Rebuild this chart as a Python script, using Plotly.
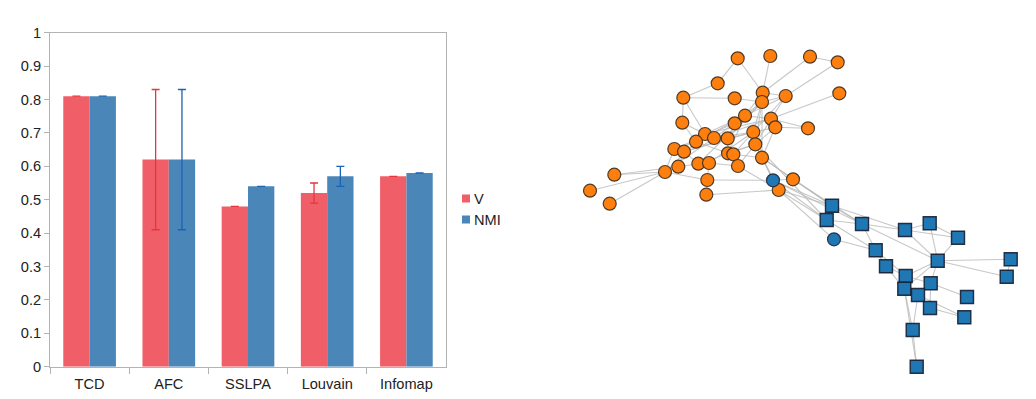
import plotly.graph_objects as go

# ---------------- bar chart data ----------------
methods = ["TCD", "AFC", "SSLPA", "Louvain", "Infomap"]
v_vals = [0.81, 0.62, 0.48, 0.52, 0.57]
v_err = [0.0, 0.21, 0.0, 0.03, 0.0]
nmi_vals = [0.81, 0.62, 0.54, 0.57, 0.58]
nmi_err = [0.0, 0.21, 0.0, 0.03, 0.0]
y_ticks = [0, 0.1, 0.2, 0.3, 0.4, 0.5, 0.6, 0.7, 0.8, 0.9, 1]
y_tick_text = ["0", "0.1", "0.2", "0.3", "0.4", "0.5", "0.6", "0.7", "0.8", "0.9", "1"]

# ---------------- network data (layout coordinates) ----------------
orange_x = [737.7, 770.3, 810.0, 837.7, 717.7, 683.3, 734.7, 762.7, 762.0, 785.7,
            839.3, 682.3, 745.0, 734.7, 771.0, 775.3, 808.0, 753.3, 755.3, 705.0,
            714.0, 727.7, 696.0, 674.3, 684.0, 728.0, 733.3, 762.0, 678.3, 698.3,
            709.0, 738.0, 665.0, 614.3, 707.3, 793.0, 778.7, 590.0, 706.3, 609.7]
orange_y = [58.3, 56.0, 56.7, 62.3, 83.3, 97.7, 98.3, 92.7, 102.0, 96.0,
            93.3, 122.7, 115.7, 123.3, 118.7, 127.3, 128.3, 132.0, 144.3, 134.0,
            138.0, 138.3, 141.7, 149.0, 151.7, 153.3, 154.3, 157.7, 166.7, 163.7,
            163.0, 166.0, 172.0, 174.7, 180.0, 179.3, 190.0, 190.7, 194.7, 203.7]
bcirc_x = [773.0, 834.0]
bcirc_y = [180.3, 239.3]
square_x = [832.0, 826.7, 862.0, 905.0, 929.7, 958.0, 875.7, 937.7, 1010.7, 1006.7,
            886.0, 905.7, 904.3, 930.7, 918.0, 967.0, 930.0, 964.3, 912.7, 916.7]
square_y = [205.7, 220.0, 224.0, 230.0, 223.3, 237.7, 250.3, 260.7, 259.3, 276.7,
            266.3, 276.0, 288.7, 283.3, 295.0, 297.0, 308.0, 317.3, 330.0, 366.7]

# edges: node ids "o#" orange circle, "b#" blue circle, "s#" square
edges = [
    ("o0", "o4"), ("o0", "o7"), ("o1", "o7"), ("o2", "o7"), ("o2", "o3"), ("o3", "o9"),
    ("o10", "o14"), ("o16", "o15"), ("o4", "o5"), ("o5", "o6"), ("o6", "o8"), ("o5", "o11"),
    ("o5", "o19"), ("o7", "o8"), ("o7", "o9"), ("o9", "o8"), ("o9", "o12"), ("o9", "o17"),
    ("o9", "o18"), ("o7", "o12"), ("o8", "o13"), ("o8", "o17"), ("o8", "o18"), ("o8", "o27"),
    ("o12", "o13"), ("o12", "o19"), ("o13", "o20"), ("o13", "o21"), ("o11", "o19"),
    ("o11", "o22"), ("o14", "o15"), ("o14", "o12"), ("o15", "o18"), ("o15", "o27"),
    ("o19", "o20"), ("o20", "o21"), ("o19", "o22"), ("o22", "o23"), ("o23", "o24"),
    ("o24", "o21"), ("o25", "o26"), ("o21", "o25"), ("o22", "o25"), ("o26", "o17"),
    ("o17", "o18"), ("o18", "o27"), ("o27", "o36"), ("o27", "b0"), ("o27", "o35"),
    ("o24", "o29"), ("o29", "o30"), ("o28", "o29"), ("o28", "o32"), ("o32", "o33"),
    ("o32", "o37"), ("o32", "o39"), ("o32", "o34"), ("o34", "o38"), ("o34", "b0"),
    ("o38", "o36"), ("o30", "o31"), ("o31", "o26"), ("o30", "o34"), ("o31", "o18"),
    ("o28", "o24"), ("o23", "o32"), ("o32", "o19"), ("o32", "o20"), ("o33", "o28"),
    ("o20", "o17"), ("o21", "o8"), ("o19", "o14"), ("o22", "o12"), ("o24", "o17"),
    ("o25", "o18"), ("o26", "o27"), ("o29", "o18"), ("o30", "o17"), ("o20", "o14"),
    ("o21", "o15"), ("o23", "o13"), ("o29", "o8"), ("o31", "o36"), ("o25", "o12"),
    ("o35", "s0"), ("o36", "s0"), ("o36", "s1"), ("b0", "s0"), ("b0", "s1"),
    ("o27", "s0"), ("b0", "o36"), ("o35", "b0"), ("o18", "o36"), ("b0", "s2"),
    ("o36", "b1"), ("o18", "s1"), ("o35", "s2"), ("b1", "s6"), ("o16", "o14"),
    ("s0", "s1"), ("s0", "s2"), ("s0", "s3"), ("s1", "s2"), ("s1", "s6"), ("s2", "s3"),
    ("s2", "s6"), ("s3", "s4"), ("s3", "s5"), ("s4", "s5"), ("s5", "s7"), ("s3", "s7"),
    ("s7", "s8"), ("s7", "s9"), ("s7", "s11"), ("s7", "s13"), ("s7", "s12"), ("s6", "s10"),
    ("s10", "s11"), ("s11", "s12"), ("s12", "s14"), ("s13", "s14"), ("s11", "s13"),
    ("s13", "s15"), ("s13", "s16"), ("s14", "s16"), ("s16", "s17"), ("s12", "s18"),
    ("s18", "s19"), ("s14", "s18"), ("s2", "s7"), ("s10", "s12"), ("s6", "s11"),
    ("s4", "s7"), ("s12", "s19"), ("s14", "s17"), ("s8", "s9"),
]

pos = {}
for i, (x, y) in enumerate(zip(orange_x, orange_y)):
    pos["o%d" % i] = (x, y)
for i, (x, y) in enumerate(zip(bcirc_x, bcirc_y)):
    pos["b%d" % i] = (x, y)
for i, (x, y) in enumerate(zip(square_x, square_y)):
    pos["s%d" % i] = (x, y)

ex, ey = [], []
for a, b in edges:
    ex += [pos[a][0], pos[b][0], None]
    ey += [pos[a][1], pos[b][1], None]

RED = "#f05f67"
BLUE = "#4a87b8"
RED_ERR = "#e8353d"
BLUE_ERR = "#1a63b3"
FONT = "Liberation Sans"
FS = 14.6

# The page body has an 8px default margin, so the figure is offset by 8px.
OFF = 8
W, H = 1036 - OFF, 399 - OFF


def px_x(p):
    return (p - OFF) / W


def px_y(p):
    return (H - (p - OFF)) / H


fig = go.Figure()

fig.add_trace(go.Bar(
    x=methods, y=v_vals, name="V", marker=dict(color=RED, line=dict(width=0)),
    error_y=dict(type="data", array=v_err, visible=True, color=RED_ERR, thickness=1.3, width=4),
    showlegend=False, xaxis="x", yaxis="y",
))
fig.add_trace(go.Bar(
    x=methods, y=nmi_vals, name="NMI", marker=dict(color=BLUE, line=dict(width=0)),
    error_y=dict(type="data", array=nmi_err, visible=True, color=BLUE_ERR, thickness=1.3, width=4),
    showlegend=False, xaxis="x", yaxis="y",
))

# network edges
fig.add_trace(go.Scatter(
    x=ex, y=ey, mode="lines", line=dict(color="rgba(185,185,185,0.8)", width=1.1),
    hoverinfo="skip", showlegend=False, xaxis="x2", yaxis="y2",
))
# nodes
fig.add_trace(go.Scatter(
    x=orange_x, y=orange_y, mode="markers",
    marker=dict(symbol="circle", size=13, color="#ff7f0e",
                line=dict(color="rgba(60,45,30,0.9)", width=1.2)),
    showlegend=False, xaxis="x2", yaxis="y2",
))
fig.add_trace(go.Scatter(
    x=bcirc_x, y=bcirc_y, mode="markers",
    marker=dict(symbol="circle", size=13, color="#1f77b4",
                line=dict(color="rgba(30,40,60,0.9)", width=1.2)),
    showlegend=False, xaxis="x2", yaxis="y2",
))
fig.add_trace(go.Scatter(
    x=square_x, y=square_y, mode="markers",
    marker=dict(symbol="square", size=13, color="#1f77b4",
                line=dict(color="rgba(20,30,50,0.9)", width=1.4)),
    showlegend=False, xaxis="x2", yaxis="y2",
))

axis_col = "#b3b3b3"

fig.update_layout(
    width=W, height=H,
    autosize=False,
    margin=dict(l=0, r=0, t=0, b=0, pad=0, autoexpand=False),
    paper_bgcolor="white", plot_bgcolor="white",
    barmode="group", bargap=0.335, bargroupgap=0,
    font=dict(family=FONT, size=FS, color="#222222"),
    showlegend=False,
    xaxis=dict(
        domain=[px_x(50), px_x(446)], anchor="y", automargin=False,
        showline=True, linecolor=axis_col, linewidth=1, mirror=True,
        ticks="outside", tickson="boundaries", ticklen=6, tickcolor=axis_col,
        ticklabelstandoff=4,
        showgrid=False, zeroline=False, tickfont=dict(size=FS, color="#222222"),
    ),
    yaxis=dict(
        domain=[px_y(366.7), px_y(32.7)], anchor="x", automargin=False,
        range=[0, 1], tickvals=y_ticks, ticktext=y_tick_text,
        showline=True, linecolor=axis_col, linewidth=1, mirror=True,
        ticks="outside", ticklen=5, tickcolor=axis_col,
        showgrid=False, zeroline=False, tickfont=dict(size=FS, color="#222222"),
    ),
    xaxis2=dict(domain=[px_x(570), px_x(1030)], range=[570, 1030], anchor="y2",
                automargin=False, visible=False, showgrid=False, zeroline=False),
    yaxis2=dict(domain=[0, 1], range=[399, OFF], anchor="x2",
                automargin=False, visible=False, showgrid=False, zeroline=False),
)

# legend swatches & labels
legend_items = [("V", RED, 198.5), ("NMI", BLUE, 219.5)]
for label, col, yc in legend_items:
    fig.add_shape(type="rect", xref="paper", yref="paper",
                  x0=px_x(462), x1=px_x(470), y0=px_y(yc + 4), y1=px_y(yc - 4),
                  fillcolor=col, line=dict(width=0))
    fig.add_annotation(text=label, xref="paper", yref="paper",
                       x=px_x(472), y=px_y(yc), xanchor="left", yanchor="middle",
                       showarrow=False, font=dict(size=FS, color="#222222", family=FONT))

fig.write_html("out.html")
